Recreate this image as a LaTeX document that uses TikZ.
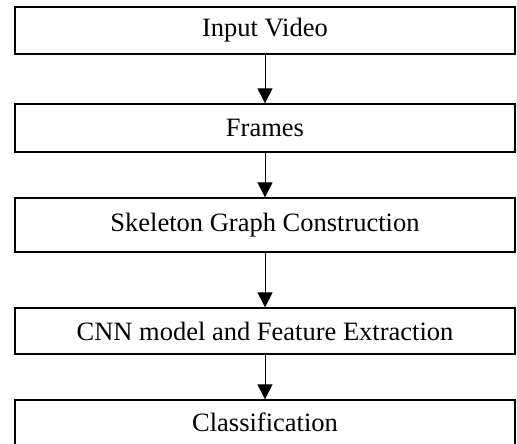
\documentclass[tikz,border=0pt]{standalone}
\usepackage{fontspec}
\setmainfont{Liberation Serif}
\usetikzlibrary{arrows.meta}
\begin{document}
\begin{tikzpicture}[x=1pt,y=-1pt,
  stagebox/.style={draw, line width=1.3pt, minimum width=500pt, inner sep=0pt,
    font=\fontsize{26.5}{30}\selectfont},
  flow/.style={line width=1pt, -{Triangle[width=15pt,length=15pt]}}]
  \useasboundingbox (0,0) rectangle (517,444);
  \clip (0,0) rectangle (517,444);
  \node[stagebox, minimum height=47pt] (input) at (265,30.5) {Input Video};
  \node[stagebox, minimum height=48pt] (frames) at (265,128) {Frames};
  \node[stagebox, minimum height=54pt] (skel) at (265,225) {Skeleton Graph Construction};
  \node[stagebox, minimum height=46pt] (cnn) at (265,331) {CNN model and Feature Extraction};
  \node[stagebox, minimum height=60pt] (cls) at (265,430) {};
  \node[font=\fontsize{26.5}{30}\selectfont] (clstext) at (265,422) {Classification};
  \draw[flow] (input) -- (frames);
  \draw[flow] (frames) -- (skel);
  \draw[flow] (skel) -- (cnn);
  \draw[flow] (cnn) -- (cls);
\end{tikzpicture}
\end{document}
